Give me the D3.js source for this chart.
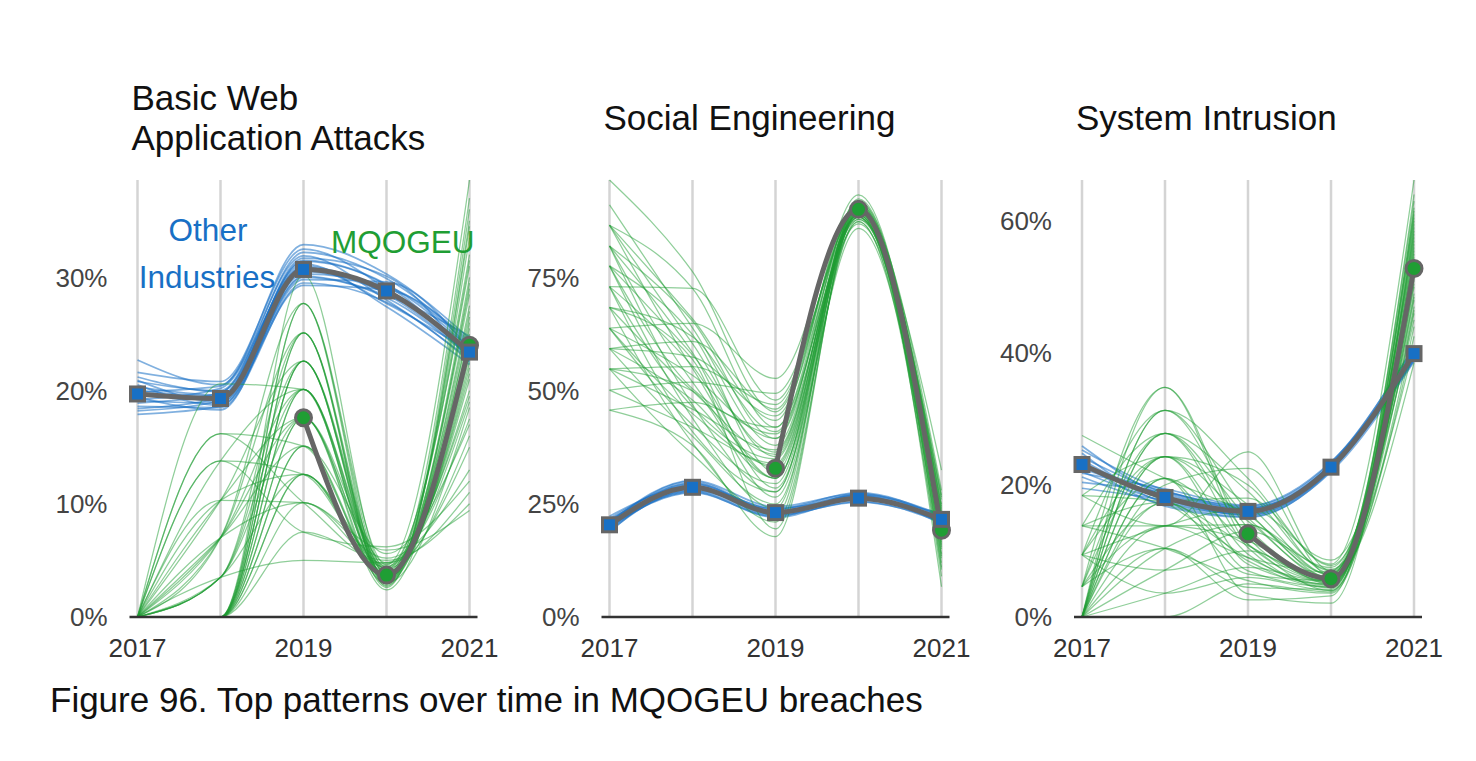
<!DOCTYPE html>
<html>
<head>
<meta charset="utf-8">
<script src="https://cdn.jsdelivr.net/npm/d3@7"></script>
<style>
  body { margin: 0; background: #fff; }
  svg text { font-family: "Liberation Sans", Arial, sans-serif; }
</style>
</head>
<body>
<svg id="chart" width="1476" height="761"></svg>
<script>
const years = [2017, 2018, 2019, 2020, 2021];
const yearLabels = ["2017", "", "2019", "", "2021"];
const titles = [["Basic Web", "Application Attacks"], ["Social Engineering"], ["System Intrusion"]];
const yTicks = [[0, 10, 20, 30], [0, 25, 50, 75], [0, 20, 40, 60]];

// bold summary lines (percent), null = no value
const webOther = [19.7, 19.3, 30.7, 28.8, 23.4];
const webMqogeu = [null, null, 17.6, 3.7, 24.0];
const socialOther = [20.4, 28.7, 23.1, 26.3, 21.6];
const socialMqogeu = [null, null, 32.9, 90.2, 19.2];
const intrusionOther = [23.1, 18.1, 16.0, 22.7, 39.9];
const intrusionMqogeu = [null, null, 12.6, 5.8, 52.8];

// thin sample lines
const webOtherSamples = [
  [19.7, 19.3, 30.7, 28.8, 23.4], [20.3, 19.6, 31.5, 29.4, 23.8], [19.1, 18.9, 30.0, 28.2, 23.0],
  [20.8, 20.0, 32.2, 29.9, 24.2], [18.6, 18.5, 29.5, 27.8, 22.6], [21.2, 19.9, 31.0, 28.5, 23.1],
  [18.2, 19.1, 30.3, 29.2, 24.0], [19.9, 20.4, 31.9, 28.0, 22.8], [20.5, 18.7, 29.8, 29.6, 23.6],
  [22.7, 20.5, 32.9, 30.3, 24.6], [18.9, 19.8, 31.2, 27.4, 22.3], [19.4, 18.3, 30.5, 28.6, 23.9],
  [21.6, 20.8, 32.5, 29.0, 23.2], [17.9, 18.6, 29.3, 28.9, 24.4], [20.0, 19.5, 31.7, 30.1, 22.5],
  [19.2, 20.2, 30.9, 27.7, 23.5], [20.9, 19.0, 30.1, 28.4, 24.8], [18.4, 19.4, 31.4, 29.3, 22.9]
];
const webMqogeuSamples = [
  [0, 0, 27.7, 3.2, 33.5], [0, 0, 25.1, 3.8, 29.0], [0, 0, 25.1, 2.7, 36.0], [0, 0, 22.6, 3.5, 27.5],
  [0, 0, 22.6, 4.4, 31.0], [0, 0, 20.1, 3.0, 24.5], [0, 0, 20.1, 3.9, 21.0], [0, 0, 17.6, 2.4, 26.0],
  [0, 0, 17.6, 4.8, 19.5], [0, 0, 15.1, 3.4, 22.5], [0, 0, 15.1, 5.6, 17.0], [0, 0, 12.6, 3.7, 28.5],
  [0, 0, 30.2, 4.1, 25.5], [0, 0, 27.7, 4.6, 38.6], [0, 0, 12.6, 4.3, 15.0], [0, 3.5, 22.6, 3.1, 30.0],
  [0, 3.5, 17.6, 3.6, 23.5], [0, 3.5, 12.6, 4.5, 20.0], [0, 3.5, 5.0, 4.8, 11.0], [0, 3.5, 25.1, 2.9, 34.5],
  [0, 7.0, 25.1, 3.3, 26.5], [0, 7.0, 20.1, 4.2, 32.0], [0, 7.0, 15.1, 3.0, 18.5], [0, 7.0, 10.1, 5.2, 13.0],
  [0, 7.0, 17.6, 3.7, 24.0], [0, 10.3, 22.6, 3.9, 21.5], [0, 10.3, 12.6, 3.4, 25.0], [0, 10.3, 10.1, 5.9, 9.4],
  [0, 10.3, 17.6, 2.8, 29.5], [0, 13.8, 20.1, 3.6, 27.0], [0, 13.8, 12.6, 4.0, 16.0], [0, 13.8, 7.5, 6.2, 12.0],
  [0, 16.2, 15.1, 3.5, 22.0], [0, 16.2, 10.1, 4.7, 17.5], [0, 20.6, 20.1, 3.2, 23.0], [0, 0, 7.5, 5.0, 10.0],
  [0, 0, 10.1, 4.4, 19.0], [0, 3.5, 20.1, 2.6, 35.0], [0, 0, 22.6, 3.3, 37.0], [0, 7.0, 27.7, 3.9, 31.5]
];
const socialOtherSamples = [
  [20.4, 28.7, 23.1, 26.3, 21.6], [21.2, 29.5, 23.8, 27.0, 22.3], [19.6, 27.9, 22.4, 25.6, 20.9],
  [21.8, 29.1, 22.8, 26.8, 21.2], [19.1, 28.3, 23.5, 25.9, 22.0], [20.8, 30.0, 23.3, 26.5, 20.6],
  [20.0, 27.5, 22.2, 27.2, 22.6], [22.3, 28.8, 24.1, 26.0, 21.8], [19.4, 29.7, 22.9, 26.6, 21.0],
  [20.6, 28.0, 23.9, 27.5, 22.1], [21.5, 28.5, 22.6, 25.4, 21.4], [18.8, 29.3, 23.4, 26.9, 20.8],
  [20.2, 27.7, 22.0, 26.1, 22.9], [21.0, 30.2, 24.4, 27.3, 21.5]
];
const socialMqogeuSamples = [
  [96.7, 76.4, 45.4, 90.5, 20.0], [91.2, 64.0, 38.0, 89.0, 17.5], [86.7, 72.7, 42.0, 91.0, 22.0],
  [86.7, 60.5, 35.5, 88.5, 15.0], [86.7, 55.0, 30.7, 90.0, 24.5], [82.1, 65.5, 39.5, 92.0, 19.0],
  [82.1, 52.0, 33.0, 87.5, 13.0], [82.1, 47.0, 27.7, 89.5, 26.0], [77.7, 58.0, 36.5, 90.5, 18.0],
  [77.7, 50.5, 42.0, 88.0, 21.5], [77.7, 44.0, 24.0, 91.5, 11.0], [73.1, 72.7, 48.0, 90.0, 23.0],
  [73.1, 55.5, 30.7, 89.0, 16.5], [73.1, 41.0, 27.7, 92.5, 20.5], [68.5, 62.0, 41.0, 88.5, 25.0],
  [68.5, 50.0, 36.0, 90.5, 14.0], [68.5, 38.5, 21.0, 89.5, 19.5], [63.9, 65.0, 52.8, 91.0, 28.0],
  [63.9, 53.5, 39.5, 87.0, 22.5], [63.9, 45.0, 33.5, 90.0, 17.0], [59.4, 57.5, 44.5, 89.0, 12.0],
  [59.4, 48.0, 30.7, 91.5, 21.0], [59.4, 40.0, 25.0, 88.0, 32.5], [54.9, 55.4, 47.0, 90.5, 18.5],
  [54.9, 46.0, 37.0, 89.5, 9.0], [54.9, 36.0, 22.5, 92.0, 24.0], [50.2, 52.0, 49.5, 88.5, 20.0],
  [50.2, 42.0, 34.0, 90.0, 16.0], [45.8, 47.5, 40.5, 89.0, 26.5], [45.8, 38.0, 17.8, 91.0, 6.7],
  [86.7, 66.0, 43.5, 93.4, 19.0], [82.1, 58.5, 28.5, 86.0, 15.5], [77.7, 62.5, 32.0, 90.5, 23.5],
  [73.1, 46.5, 35.0, 88.5, 13.5], [68.5, 57.0, 19.5, 90.0, 18.0], [63.9, 42.5, 29.5, 89.5, 27.0],
  [59.4, 61.0, 46.0, 91.5, 22.0], [54.9, 50.0, 26.5, 87.5, 10.5]
];
const intrusionOtherSamples = [
  [23.1, 18.1, 16.0, 22.7, 39.9], [24.2, 18.8, 16.5, 23.1, 40.6], [22.0, 17.5, 15.5, 22.3, 39.2],
  [25.3, 19.2, 16.8, 23.4, 41.0], [21.2, 17.0, 15.2, 22.0, 38.7], [23.8, 17.8, 15.8, 22.9, 40.2],
  [22.5, 18.5, 16.3, 22.5, 39.5], [24.8, 17.3, 15.6, 23.2, 40.9], [20.4, 18.9, 16.6, 22.6, 39.0],
  [23.4, 16.8, 15.1, 22.2, 40.4], [21.8, 19.4, 16.9, 23.5, 39.7], [25.9, 18.3, 16.1, 22.8, 38.9],
  [19.5, 17.7, 15.4, 22.4, 40.0], [22.8, 19.0, 16.4, 23.0, 39.3]
];
const intrusionMqogeuSamples = [
  [0, 34.8, 12.0, 5.5, 58.0], [0, 31.3, 16.0, 6.5, 52.0], [0, 27.8, 10.5, 4.5, 61.0], [0, 27.8, 19.0, 7.0, 48.0],
  [0, 24.3, 8.0, 5.0, 55.0], [0, 24.3, 14.5, 6.0, 63.0], [0, 21.0, 11.0, 4.0, 50.5], [0, 17.4, 6.5, 5.5, 57.0],
  [0, 13.8, 9.0, 6.8, 46.0], [0, 10.4, 4.5, 4.2, 59.5], [0, 7.1, 13.0, 7.5, 53.5], [0, 3.6, 7.5, 5.2, 44.0],
  [0, 0, 5.0, 3.8, 56.0], [0, 20.0, 22.5, 6.2, 49.0], [4.6, 27.8, 15.0, 5.8, 60.0], [4.6, 24.3, 9.5, 4.8, 54.0],
  [4.6, 17.4, 18.0, 7.8, 47.0], [4.6, 10.4, 2.6, 3.2, 62.0], [4.6, 13.8, 11.5, 5.5, 42.5], [9.4, 31.3, 13.5, 6.0, 57.5],
  [9.4, 21.0, 7.0, 4.6, 51.0], [9.4, 13.8, 16.5, 8.6, 45.0], [9.4, 7.1, 10.0, 5.0, 64.0], [9.4, 24.3, 20.0, 6.6, 55.5],
  [13.8, 27.8, 12.5, 5.3, 50.0], [13.8, 17.4, 8.5, 4.4, 58.5], [13.8, 13.8, 14.0, 7.2, 41.0], [13.8, 10.4, 5.5, 3.6, 53.0],
  [18.4, 24.3, 17.0, 6.4, 61.5], [18.4, 17.4, 10.8, 5.6, 48.5], [18.4, 13.8, 25.0, 7.0, 56.5], [27.5, 21.0, 15.5, 5.9, 38.5],
  [22.9, 17.4, 9.0, 4.9, 52.5], [0, 21.0, 3.5, 2.1, 59.0], [0, 31.3, 21.0, 8.0, 66.2], [4.6, 34.8, 11.0, 5.4, 46.5],
  [9.4, 3.6, 6.0, 4.0, 54.5], [0, 10.4, 14.0, 6.3, 60.5]
];

const blue = "#1870c5";
const green = "#1f9e34";
const gray = "#666";

const panels = [
  { other: webOther, mq: webMqogeu, otherS: webOtherSamples, mqS: webMqogeuSamples },
  { other: socialOther, mq: socialMqogeu, otherS: socialOtherSamples, mqS: socialMqogeuSamples },
  { other: intrusionOther, mq: intrusionMqogeu, otherS: intrusionOtherSamples, mqS: intrusionMqogeuSamples }
];

const svg = d3.select("#chart");
svg.append("rect").attr("width", 1476).attr("height", 761).attr("fill", "#fff");

const lefts = [137.5, 609.5, 1082];
const plotW = 332, plotTop = 180, plotBottom = 617;

panels.forEach((p, i) => {
  const g = svg.append("g").attr("transform", `translate(${lefts[i]},0)`);
  const x = d3.scalePoint().domain(years).range([0, plotW]);
  const all = p.otherS.flat().concat(p.mqS.flat(), p.other, p.mq.filter(v => v != null));
  const y = d3.scaleLinear().domain([0, d3.max(all)]).range([plotBottom, plotTop]);

  // vertical gridlines
  g.selectAll(".grid").data(years).enter().append("line")
    .attr("x1", d => x(d)).attr("x2", d => x(d))
    .attr("y1", plotTop).attr("y2", plotBottom)
    .attr("stroke", "#d4d4d4").attr("stroke-width", 2.5);

  // y tick labels
  g.selectAll(".ytick").data(yTicks[i]).enter().append("text")
    .attr("x", -30).attr("y", d => y(d)).attr("dy", "0.36em")
    .attr("text-anchor", "end").attr("font-size", 26).attr("fill", "#444")
    .text(d => d + "%");

  // x labels
  g.selectAll(".xtick").data(years).enter().append("text")
    .attr("x", d => x(d)).attr("y", 657)
    .attr("text-anchor", "middle").attr("font-size", 26).attr("fill", "#333")
    .text((d, j) => yearLabels[j]);

  // title
  g.append("text").attr("x", -6).attr("y", 129.5 - (titles[i].length - 1) * 20)
    .attr("font-size", 35).attr("fill", "#111")
    .selectAll("tspan").data(titles[i]).enter().append("tspan")
    .attr("x", -6).attr("dy", (d, j) => j === 0 ? 0 : 40).text(d => d);

  const smooth = d3.line().defined(d => d != null)
    .x((d, j) => x(years[j])).y(d => y(d)).curve(d3.curveMonotoneX);

  g.selectAll(".os").data(p.otherS).enter().append("path")
    .attr("d", smooth).attr("fill", "none")
    .attr("stroke", blue).attr("stroke-width", 1.7).attr("stroke-opacity", 0.55);

  g.selectAll(".ms").data(p.mqS).enter().append("path")
    .attr("d", smooth).attr("fill", "none")
    .attr("stroke", green).attr("stroke-width", 1.25).attr("stroke-opacity", 0.5);

  // baseline
  g.append("line").attr("x1", -8).attr("x2", plotW + 8)
    .attr("y1", plotBottom).attr("y2", plotBottom)
    .attr("stroke", "#333").attr("stroke-width", 2.5);

  // MQOGEU bold line
  g.append("path").attr("d", smooth(p.mq)).attr("fill", "none")
    .attr("stroke", gray).attr("stroke-width", 5);
  g.selectAll(".mqpt").data(p.mq.map((v, j) => [years[j], v]).filter(d => d[1] != null))
    .enter().append("circle")
    .attr("cx", d => x(d[0])).attr("cy", d => y(d[1])).attr("r", 8)
    .attr("fill", green).attr("stroke", gray).attr("stroke-width", 3);

  // Other industries bold line
  g.append("path").attr("d", smooth(p.other)).attr("fill", "none")
    .attr("stroke", gray).attr("stroke-width", 5);
  g.selectAll(".opt").data(p.other).enter().append("rect")
    .attr("x", (d, j) => x(years[j]) - 7).attr("y", d => y(d) - 7)
    .attr("width", 14).attr("height", 14)
    .attr("fill", blue).attr("stroke", gray).attr("stroke-width", 3);
});

// legend labels
svg.append("text").attr("x", 208).attr("y", 240.5).attr("text-anchor", "middle")
  .attr("font-size", 31.5).attr("fill", blue).text("Other");
svg.append("text").attr("x", 207).attr("y", 288).attr("text-anchor", "middle")
  .attr("font-size", 31.5).attr("fill", blue).text("Industries");
svg.append("text").attr("x", 331).attr("y", 252.5)
  .attr("font-size", 31.5).attr("fill", green).text("MQOGEU");

// caption
svg.append("text").attr("x", 50).attr("y", 712)
  .attr("font-size", 35).attr("fill", "#111")
  .text("Figure 96. Top patterns over time in MQOGEU breaches");
</script>
</body>
</html>
